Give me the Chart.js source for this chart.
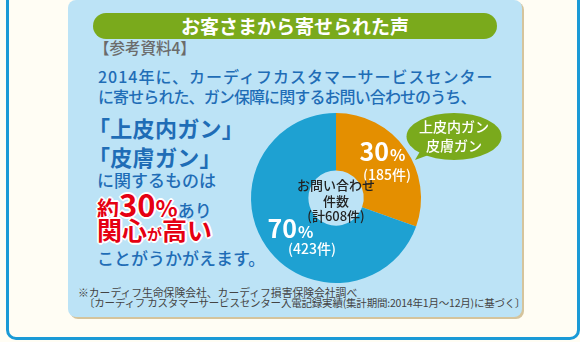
<!doctype html>
<html lang="ja">
<head>
<meta charset="utf-8">
<title>お客さまから寄せられた声</title>
<script src="https://cdn.jsdelivr.net/npm/chart.js@4.4.0/dist/chart.umd.min.js"></script>
<style>
	html, body { margin: 0; padding: 0; }
	body {
		width: 580px; height: 342px; overflow: hidden; position: relative;
		background: #fffdf4;
		font-family: "Noto Sans CJK JP", "Noto Sans", sans-serif;
	}
	.frame {
		position: absolute; left: 6px; top: -20px; width: 574px; height: 360px;
		box-sizing: border-box; border: 3px solid #1a9ad6; border-radius: 10px;
	}
	.panel {
		position: absolute; left: 68px; top: 0; width: 454px; height: 317px;
		background: #bce3f6; border-radius: 8px; box-shadow: 2px 2px 0 #d5c49c;
	}
	.banner {
		position: absolute; left: 93px; top: 13px; width: 404px; height: 26px;
		background: #7aaa1c; border-radius: 13px; color: #fff;
		font-weight: bold; font-size: 19px; line-height: 26px; text-align: center;
	}
	.t { position: absolute; white-space: nowrap; line-height: 1; }
	.ref { left: 94px; top: 40px; font-size: 15.5px; color: #6b6b6b; font-weight: 500; }
	.lead { left: 98px; font-size: 16px; color: #1f6db6; font-weight: 500; }
	.big { left: 88px; font-size: 22px; font-weight: bold; color: #1f6db6; letter-spacing: 0.3px; }
	.mid { left: 97px; font-size: 17px; color: #1f6db6; font-weight: 500; }
	.red {
		color: #e50012; font-weight: bold;
		text-shadow: -2px 0 #fff, 2px 0 #fff, 0 -2px #fff, 0 2px #fff,
			-1px -1px #fff, 1px 1px #fff, -1px 1px #fff, 1px -1px #fff;
	}
	.note { left: 78px; font-size: 10.8px; color: #444; }
	#wrap { position: absolute; left: 216px; top: 78px; width: 240px; height: 240px; }
	#bubble { position: absolute; left: 400px; top: 108px; }
</style>
</head>
<body>
	<div class="frame"></div>
	<div class="panel"></div>
	<div class="banner">お客さまから寄せられた声</div>
	<div class="t ref">【参考資料4】</div>
	<div class="t lead" style="top:68px; letter-spacing:1px;">2014年に、カーディフカスタマーサービスセンター</div>
	<div class="t lead" style="top:88px; letter-spacing:-0.9px;">に寄せられた、ガン保障に関するお問い合わせのうち、</div>

	<div class="t big" style="top:116px;">「上皮内ガン」</div>
	<div class="t big" style="top:145px;">「皮膚ガン」</div>
	<div class="t mid" style="top:171px;">に関するものは</div>
	<div class="t mid" style="top:188px;"><span class="red" style="font-size:22px;">約</span><span class="red" style="font-size:31px;">30</span><span class="red" style="font-size:23px;">%</span>あり</div>
	<div class="t mid" style="top:217px;"><span class="red" style="font-size:25px;">関心</span><span class="red" style="font-size:15px;">が</span><span class="red" style="font-size:25px;">高い</span></div>
	<div class="t mid" style="top:249px;">ことがうかがえます。</div>

	<div class="t note" style="top:287px;">※カーディフ生命保険会社、カーディフ損害保険会社調べ</div>
	<div class="t note" style="top:298px; left:84px; font-size:10.5px; letter-spacing:-0.2px;">〔カーディフ カスタマーサービスセンター入電記録実績(集計期間:2014年1月～12月)に基づく〕</div>

	<div id="wrap"><canvas id="canvas" width="240" height="240"></canvas></div>

	<svg id="bubble" width="110" height="60" viewBox="0 0 110 60">
		<path d="M22 40 L15 52 L34 45 Z" fill="#7aaa1c"/>
		<ellipse cx="54" cy="28.5" rx="47.5" ry="23.5" fill="#7aaa1c"/>
		<text x="54" y="24" fill="#fff" font-size="14" font-weight="500" text-anchor="middle" font-family="Noto Sans CJK JP">上皮内ガン</text>
		<text x="54" y="43" fill="#fff" font-size="14" font-weight="500" text-anchor="middle" font-family="Noto Sans CJK JP">皮膚ガン</text>
	</svg>

	<script>
		var categories = ['上皮内ガン・皮膚ガン', 'その他'];
		var counts = [185, 423];
		var percentLabels = ['30', '70'];
		var centerLines = ['お問い合わせ', '件数', '(計608件)'];
		var sliceColors = ['#e48f00', '#1ea1d2'];

		// label offsets from each slice's middle point: [pctDx, pctDy, countDx, countDy]
		var labelOffsets = [[0, -14, 5, 9], [0, -2, 22, 18]];

		var sliceLabels = {
			id: 'sliceLabels',
			afterDatasetsDraw: function(chart) {
				var ctx = chart.ctx;
				var meta = chart.getDatasetMeta(0);
				ctx.save();
				ctx.textBaseline = 'middle';
				meta.data.forEach(function(arc, i) {
					var p = arc.getProps(['x', 'y', 'startAngle', 'endAngle', 'innerRadius', 'outerRadius'], true);
					var a = (p.startAngle + p.endAngle) / 2;
					var r = (p.innerRadius + p.outerRadius) / 2;
					var mx = p.x + Math.cos(a) * r;
					var my = p.y + Math.sin(a) * r;
					var o = labelOffsets[i];
					// big number + small %
					ctx.fillStyle = '#fff';
					ctx.font = 'bold 25px "Noto Sans CJK JP"';
					var w1 = ctx.measureText(percentLabels[i]).width;
					ctx.font = 'bold 16px "Noto Sans CJK JP"';
					var w2 = ctx.measureText('%').width;
					var sx = mx + o[0] - (w1 + w2) / 2;
					ctx.textAlign = 'left';
					ctx.font = 'bold 25px "Noto Sans CJK JP"';
					ctx.fillText(percentLabels[i], sx, my + o[1]);
					ctx.font = 'bold 16px "Noto Sans CJK JP"';
					ctx.fillText('%', sx + w1 + 1, my + o[1] + 3);
					ctx.textAlign = 'center';
					ctx.font = '500 14px "Noto Sans CJK JP"';
					ctx.fillText('(' + counts[i] + '件)', mx + o[2], my + o[3]);
				});
				var c = meta.data[0];
				ctx.fillStyle = '#222';
				ctx.font = '500 13px "Noto Sans CJK JP"';
				ctx.textAlign = 'center';
				ctx.fillText(centerLines[0], c.x, c.y - 13);
				ctx.fillText(centerLines[1], c.x, c.y + 3);
				ctx.fillText(centerLines[2], c.x, c.y + 18);
				ctx.restore();
			}
		};

		var config = {
			type: 'doughnut',
			data: {
				labels: categories,
				datasets: [{
					data: counts,
					backgroundColor: sliceColors,
					borderWidth: 0
				}]
			},
			options: {
				responsive: false,
				animation: false,
				radius: 85,
				cutout: 39,
				layout: { padding: 0 },
				plugins: {
					legend: { display: false },
					tooltip: { enabled: false }
				}
			},
			plugins: [sliceLabels]
		};

		window.onload = function() {
			var ctx = document.getElementById('canvas').getContext('2d');
			window.myChart = new Chart(ctx, config);
		};
	</script>
</body>
</html>
